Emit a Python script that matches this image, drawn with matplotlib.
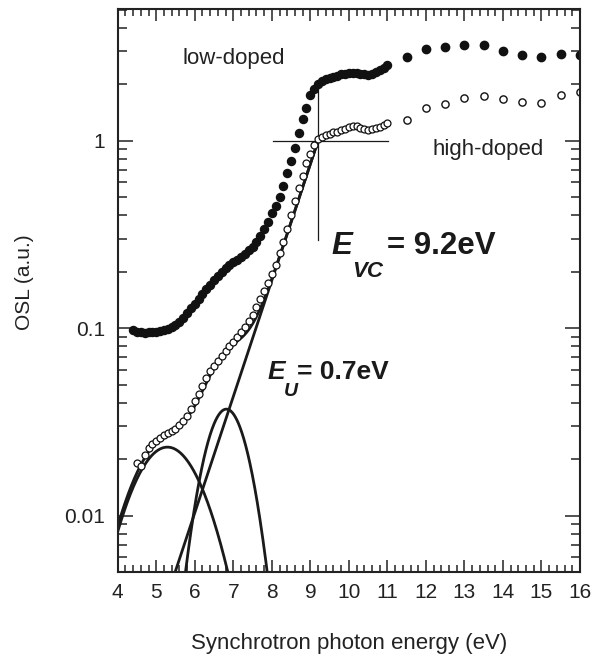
import matplotlib
matplotlib.use("Agg")
import matplotlib.pyplot as plt
import numpy as np
from matplotlib.ticker import FixedLocator, LogLocator, NullFormatter, MultipleLocator

plt.rcParams['font.family'] = ['Liberation Sans', 'DejaVu Sans']

# dense scans (0.1 eV steps)
dense_energy = [round(4.4 + 0.1 * i, 1) for i in range(67)]
low_dense = [0.098, 0.096, 0.095, 0.094, 0.095, 0.095, 0.096, 0.097, 0.098, 0.099,
             0.101, 0.104, 0.108, 0.114, 0.121, 0.128, 0.135, 0.143, 0.152, 0.161,
             0.171, 0.180, 0.190, 0.200, 0.210, 0.218, 0.225, 0.232, 0.240, 0.250,
             0.260, 0.272, 0.290, 0.310, 0.340, 0.370, 0.410, 0.450, 0.500, 0.575,
             0.670, 0.780, 0.920, 1.10, 1.30, 1.50, 1.75, 1.90, 2.02, 2.08,
             2.13, 2.17, 2.20, 2.22, 2.26, 2.28, 2.30, 2.31, 2.30, 2.28,
             2.26, 2.25, 2.28, 2.33, 2.40, 2.46, 2.55]

high_energy = [round(4.5 + 0.1 * i, 1) for i in range(66)]
high_dense = [0.0190, 0.0185, 0.0210, 0.0229, 0.0240, 0.0250, 0.0260, 0.0270, 0.0276, 0.0283,
              0.0290, 0.0305, 0.0320, 0.0340, 0.0370, 0.0410, 0.0445, 0.0490, 0.0540, 0.0590,
              0.0630, 0.0670, 0.0710, 0.0755, 0.0800, 0.0845, 0.0900, 0.0960, 0.102, 0.109,
              0.118, 0.130, 0.143, 0.158, 0.175, 0.194, 0.218, 0.252, 0.290, 0.340,
              0.400, 0.480, 0.560, 0.650, 0.760, 0.850, 0.950, 1.02, 1.05, 1.07,
              1.09, 1.11, 1.12, 1.14, 1.16, 1.18, 1.20, 1.20, 1.17, 1.15,
              1.14, 1.15, 1.17, 1.19, 1.21, 1.24]

# sparse scans (0.5 eV steps)
sparse_energy = [11.5, 12.0, 12.5, 13.0, 13.5, 14.0, 14.5, 15.0, 15.5, 16.0]
low_sparse = [2.81, 3.10, 3.18, 3.26, 3.26, 3.00, 2.88, 2.81, 2.92, 2.88]
high_sparse = [1.29, 1.50, 1.58, 1.70, 1.74, 1.68, 1.62, 1.60, 1.76, 1.83]

# fit model: Urbach tail + two gaussian bands
edge_energy = 9.2
edge_value = 1.0
urbach_energy = 0.7
band_centers = [5.29, 6.82]
band_amps = [0.0232, 0.037]
band_widths = [0.895, 0.53]

xticks = list(range(4, 17))
yticks = [0.01, 0.1, 1]
ytick_labels = ['0.01', '0.1', '1']

fig = plt.figure(figsize=(6.03, 6.59), dpi=100)
ax = fig.add_axes([0.1952, 0.132, 0.7667, 0.8543])

E = np.linspace(4, edge_energy, 400)
urbach = edge_value * np.exp((E - edge_energy) / urbach_energy)
bands = [a * np.exp(-(E - c) ** 2 / (2 * w ** 2))
         for c, a, w in zip(band_centers, band_amps, band_widths)]
total = urbach + sum(bands)

lw = 2.0
ax.plot(E, total, color='#1a1a1a', lw=lw)
ax.plot(E[E > 5.3], urbach[E > 5.3], color='#1a1a1a', lw=lw)
for b in bands:
    ax.plot(E, b, color='#1a1a1a', lw=lw)

# crosshair at the edge
ax.plot([8.04, 11.02], [0.995, 0.995], color='#1a1a1a', lw=0.9)
ax.plot([9.19, 9.19], [0.295, 1.85], color='#1a1a1a', lw=0.9)

ax.plot(dense_energy, low_dense, 'o', ms=5.8, color='#111111', mec='#111111')
ax.plot(sparse_energy, low_sparse, 'o', ms=6.0, color='#111111', mec='#111111')
ax.plot(high_energy, high_dense, 'o', ms=5.0, mfc='white', mec='#111111', mew=0.9)
ax.plot(sparse_energy, high_sparse, 'o', ms=5.2, mfc='white', mec='#111111', mew=1.0)

ax.set_yscale('log')
ax.set_xlim(4, 16)
ax.set_ylim(0.005, 5.05)

ax.xaxis.set_major_locator(FixedLocator(xticks))
ax.xaxis.set_minor_locator(MultipleLocator(0.2))
ax.set_xticklabels([str(t) for t in xticks])
ax.yaxis.set_major_locator(FixedLocator(yticks))
ax.yaxis.set_minor_locator(LogLocator(subs=np.arange(2, 10)))
ax.yaxis.set_minor_formatter(NullFormatter())
ax.set_yticklabels(ytick_labels)

for s in ax.spines.values():
    s.set_linewidth(1.5)
    s.set_color('#222222')

ax.tick_params(which='both', direction='in', top=True, right=True, colors='#222222',
               labelsize=15, width=1.1)
ax.tick_params(axis='x', which='major', length=8.6, pad=8)
ax.tick_params(axis='x', which='minor', length=5)
ax.tick_params(axis='y', which='major', length=10.8, pad=9)
ax.tick_params(axis='y', which='minor', length=6.5)

fig.text(349 / 603, 1 - 643 / 659, 'Synchrotron photon energy (eV)', ha='center', va='center',
         fontsize=16, color='#222222')
fig.text(25 / 603, 1 - 282 / 659, 'OSL (a.u.)', rotation=90, ha='center', va='center',
         fontsize=15, color='#222222')

ax.text(5.68, 2.75, 'low-doped', fontsize=16, va='center', ha='left', color='#222222')
ax.text(12.16, 0.9, 'high-doped', fontsize=16, va='center', ha='left', color='#222222')

# E_VC label
kw = dict(textcoords='offset points', ha='left', va='baseline', color='#1a1a1a')
ax.annotate('E', xy=(9.56, 0.248), xytext=(0, 0), fontsize=22.5,
            fontweight='bold', fontstyle='italic', **kw)
ax.annotate('VC', xy=(9.56, 0.248), xytext=(14.4, -16.6), fontsize=16,
            fontweight='bold', fontstyle='italic', **kw)
ax.annotate('= 9.2eV', xy=(9.56, 0.248), xytext=(40, 0), fontsize=22.5,
            fontweight='bold', **kw)

# E_U label
ax.annotate('E', xy=(7.9, 0.0535), xytext=(0, 0), fontsize=19,
            fontweight='bold', fontstyle='italic', **kw)
ax.annotate('U', xy=(7.9, 0.0535), xytext=(11.5, -12.2), fontsize=14,
            fontweight='bold', fontstyle='italic', **kw)
ax.annotate('= 0.7eV', xy=(7.9, 0.0535), xytext=(21, 0), fontsize=19,
            fontweight='bold', **kw)

fig.savefig('out.png', dpi=100)
